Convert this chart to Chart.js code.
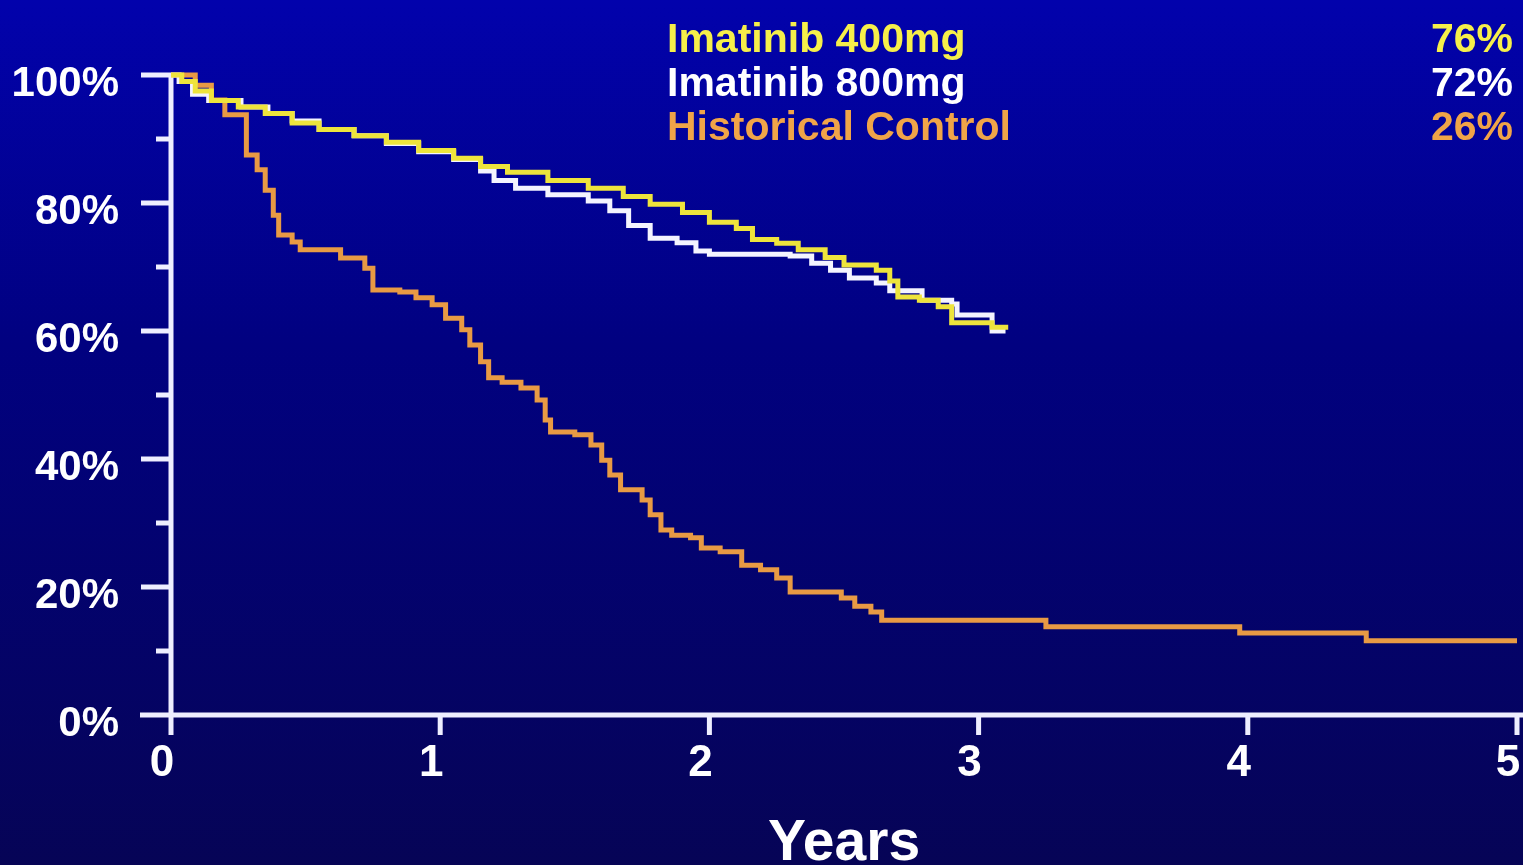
<!DOCTYPE html>
<html>
<head>
<meta charset="utf-8">
<script src="https://cdn.jsdelivr.net/npm/chart.js@4.4.1/dist/chart.umd.min.js"></script>
<style>
  html, body { margin: 0; padding: 0; background: #02029a; }
  #wrap { width: 1523px; height: 865px; }
</style>
</head>
<body>
<div id="wrap"><canvas id="kmChart" width="1523" height="865"></canvas></div>
<script>
// Kaplan-Meier curves, values (years, % surviving)
const years400 = [0, 0.04, 0.09, 0.15, 0.25, 0.35, 0.45, 0.55, 0.68, 0.80, 0.92, 1.05, 1.15, 1.25, 1.40, 1.55, 1.68, 1.78, 1.90, 2.00, 2.10, 2.16, 2.25, 2.33, 2.43, 2.50, 2.62, 2.67, 2.70, 2.78, 2.85, 2.90, 3.05, 3.11];
const surv400 = [100, 99, 97.5, 96, 95, 94, 92.5, 91.5, 90.5, 89.5, 88.2, 87, 85.7, 84.8, 83.5, 82.3, 81, 79.8, 78.5, 77, 76, 74.3, 73.7, 72.7, 71.5, 70.3, 69.5, 67.8, 65.3, 64.8, 63.8, 61.3, 60.6, 60.6];

const years800 = [0, 0.03, 0.08, 0.14, 0.26, 0.36, 0.45, 0.55, 0.68, 0.80, 0.92, 1.05, 1.15, 1.20, 1.28, 1.40, 1.55, 1.63, 1.70, 1.78, 1.88, 1.95, 2.00, 2.30, 2.38, 2.45, 2.52, 2.62, 2.67, 2.79, 2.90, 2.92, 3.05, 3.10];
const surv800 = [100, 99, 97, 96, 95, 94, 92.8, 91.5, 90.5, 89.3, 88, 86.8, 85, 83.5, 82.3, 81.3, 80.3, 78.8, 76.5, 74.5, 73.8, 72.5, 72, 71.7, 70.6, 69.5, 68.3, 67.5, 66.3, 64.8, 64.2, 62.5, 60, 60];

const yearsHist = [0, 0.09, 0.15, 0.20, 0.28, 0.32, 0.35, 0.38, 0.40, 0.45, 0.48, 0.63, 0.72, 0.75, 0.85, 0.91, 0.97, 1.02, 1.08, 1.11, 1.15, 1.18, 1.23, 1.30, 1.36, 1.39, 1.41, 1.50, 1.56, 1.60, 1.63, 1.67, 1.75, 1.78, 1.82, 1.86, 1.93, 1.97, 2.04, 2.12, 2.19, 2.25, 2.30, 2.49, 2.54, 2.60, 2.64, 3.25, 3.97, 4.44, 5.0];
const survHist = [100, 98.4, 96.1, 93.8, 87.5, 85.2, 82, 78.1, 75, 73.9, 72.7, 71.4, 69.8, 66.4, 66.1, 65.2, 64.1, 62, 60.2, 57.8, 55.2, 52.7, 52, 51.1, 49.2, 46.1, 44.2, 43.8, 42.2, 39.8, 37.5, 35.2, 33.6, 31.3, 28.9, 28.1, 27.7, 26.1, 25.5, 23.4, 22.7, 21.4, 19.2, 18.3, 17, 16.1, 14.8, 13.8, 12.8, 11.6, 11.6];

const seriesNames = ['Imatinib 400mg', 'Imatinib 800mg', 'Historical Control'];
const twoYearRates = ['76%', '72%', '26%'];
const seriesColors = ['#eee43c', '#f4f4ff', '#e89a44'];
const textColors = ['#f6ef4a', '#ffffff', '#f0a448'];

const sans = "'Liberation Sans', Arial, sans-serif";

function toPoints(xs, ys) {
  return xs.map((x, i) => ({ x: x, y: ys[i] }));
}

// slide background
const bgPlugin = {
  id: 'bg',
  beforeDraw(chart) {
    const ctx = chart.ctx;
    const g = ctx.createLinearGradient(0, 0, 0, chart.height);
    g.addColorStop(0, '#0202ac');
    g.addColorStop(0.4, '#010180');
    g.addColorStop(1, '#060456');
    ctx.save();
    ctx.fillStyle = g;
    ctx.fillRect(0, 0, chart.width, chart.height);
    ctx.restore();
  }
};

// axis lines and tick marks (major ticks longer than minor ones)
const axesPlugin = {
  id: 'axes',
  beforeDatasetsDraw(chart) {
    const ctx = chart.ctx;
    const xs = chart.scales.x, ys = chart.scales.y;
    const x0 = xs.getPixelForValue(0);
    const y0 = ys.getPixelForValue(0);
    ctx.save();
    ctx.strokeStyle = '#eeeeff';
    ctx.lineWidth = 5;
    ctx.lineCap = 'butt';
    ctx.beginPath();
    ctx.moveTo(140, y0);
    ctx.lineTo(chart.width, y0);
    ctx.moveTo(x0, ys.getPixelForValue(100) - 2);
    ctx.lineTo(x0, y0 + 20);
    for (let v = 10; v <= 100; v += 10) {
      const py = ys.getPixelForValue(v);
      const len = v % 20 === 0 ? 30 : 15;
      ctx.moveTo(x0 - len, py);
      ctx.lineTo(x0, py);
    }
    for (let t = 1; t <= 5; t++) {
      const px = Math.min(xs.getPixelForValue(t), chart.width - 3);
      ctx.moveTo(px, y0);
      ctx.lineTo(px, y0 + 20);
    }
    ctx.stroke();
    ctx.restore();
  }
};

// text legend at the top with 2-year rates
const legendPlugin = {
  id: 'textLegend',
  afterDraw(chart) {
    const ctx = chart.ctx;
    ctx.save();
    ctx.font = 'bold 41px ' + sans;
    ctx.textBaseline = 'alphabetic';
    seriesNames.forEach((name, i) => {
      const y = 52 + i * 44;
      ctx.fillStyle = textColors[i];
      ctx.textAlign = 'left';
      ctx.fillText(name, 667, y);
      ctx.textAlign = 'right';
      ctx.fillText(twoYearRates[i], 1513, y);
    });
    ctx.restore();
  }
};

const ctx = document.getElementById('kmChart').getContext('2d');
const chart = new Chart(ctx, {
  type: 'line',
  data: {
    datasets: [
      { label: seriesNames[0], data: toPoints(years400, surv400), borderColor: seriesColors[0] },
      { label: seriesNames[1], data: toPoints(years800, surv800), borderColor: seriesColors[1] },
      { label: seriesNames[2], data: toPoints(yearsHist, survHist), borderColor: seriesColors[2] }
    ]
  },
  options: {
    responsive: false,
    animation: false,
    devicePixelRatio: 1,
    parsing: false,
    layout: { padding: { left: 0, right: 6, top: 75, bottom: 0 } },
    elements: {
      line: { stepped: true, borderWidth: 5, tension: 0, fill: false, borderCapStyle: 'butt', borderJoinStyle: 'miter' },
      point: { radius: 0, hoverRadius: 0 }
    },
    datasets: { line: { clip: 10 } },
    plugins: {
      legend: { display: false },
      tooltip: { enabled: false }
    },
    scales: {
      x: {
        type: 'linear',
        min: 0,
        max: 5,
        grid: { display: false, drawTicks: false },
        border: { display: false },
        ticks: {
          stepSize: 1,
          color: '#ffffff',
          padding: 22,
          labelOffset: -9,
          font: { family: sans, size: 44, weight: 'bold' }
        },
        title: {
          display: true,
          text: 'Years',
          color: '#ffffff',
          padding: { top: 0, bottom: -8 },
          font: { family: sans, size: 57, weight: 'bold', lineHeight: 1.0 }
        },
        afterFit(scale) {
          scale.height = 150;
          scale.paddingLeft = 0;
          scale.paddingRight = 0;
        }
      },
      y: {
        min: 0,
        max: 100,
        grid: { display: false, drawTicks: false },
        border: { display: false },
        ticks: {
          stepSize: 20,
          color: '#ffffff',
          padding: 52,
          labelOffset: 9,
          font: { family: sans, size: 42, weight: 'bold' },
          callback: v => v + '%'
        },
        afterFit(scale) {
          scale.width = 171;
          scale.paddingTop = 0;
          scale.paddingBottom = 0;
        }
      }
    }
  },
  plugins: [bgPlugin, axesPlugin, legendPlugin]
});
</script>
</body>
</html>
